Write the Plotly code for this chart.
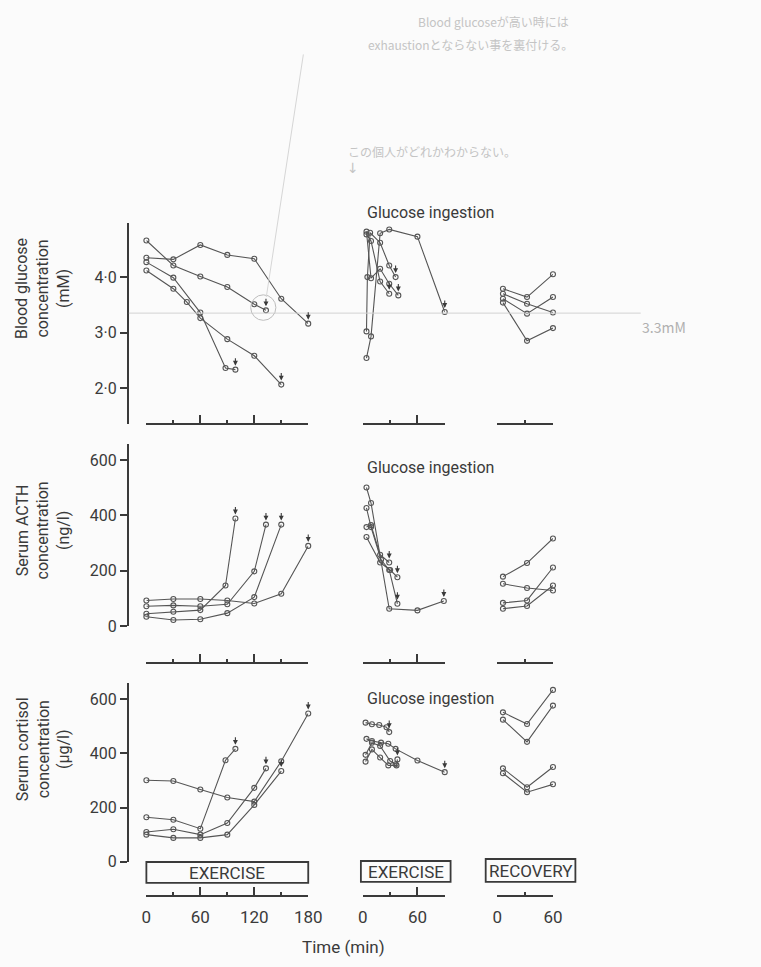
import plotly.graph_objects as go

W, H = 761, 967
INK = "#3a3a3a"
LINE = "#555555"
FONT = "Roboto"

# ---------------- data ----------------
# Blood glucose (mM)
glu_ex_times = [[0, 30, 60, 90, 120, 133], [0, 30, 60, 90, 120, 150, 180],
                [0, 30, 60, 88, 99], [0, 30, 45, 60, 90, 120, 150]]
glu_ex_values = [[4.66, 4.21, 4.01, 3.82, 3.51, 3.40], [4.35, 4.32, 4.58, 4.40, 4.33, 3.61, 3.16],
                 [4.27, 3.99, 3.36, 2.36, 2.33], [4.12, 3.79, 3.55, 3.26, 2.88, 2.58, 2.06]]
glu_gi_times = [[4, 9, 19, 29, 60, 90], [4, 5, 8, 19, 29, 36], [4, 9, 19, 29, 39], [4, 9, 19, 29]]
glu_gi_values = [[2.54, 2.93, 4.79, 4.86, 4.73, 3.37], [3.02, 4.00, 4.80, 4.62, 4.21, 4.00],
                 [4.82, 3.98, 4.15, 3.88, 3.67], [4.77, 4.65, 3.92, 3.70]]
glu_rec_times = [[6, 32, 60]] * 4
glu_rec_values = [[3.79, 3.64, 4.05], [3.70, 3.52, 3.36], [3.61, 3.34, 3.64], [3.54, 2.85, 3.08]]

# Serum ACTH (ng/l)
acth_ex_times = [[0, 30, 60, 88, 99], [0, 30, 60, 90, 120, 133],
                 [0, 30, 60, 90, 120, 150], [0, 30, 60, 90, 120, 150, 180]]
acth_ex_values = [[45, 52, 58, 147, 389], [72, 75, 72, 79, 198, 367],
                  [34, 22, 25, 47, 105, 367], [93, 98, 98, 93, 82, 117, 290]]
acth_gi_times = [[4, 9, 29, 60, 89], [4, 9, 20, 29, 38], [4, 9, 19, 29], [4, 19, 30, 38]]
acth_gi_values = [[501, 445, 63, 57, 91], [427, 358, 240, 203, 81], [358, 365, 258, 230], [322, 230, 203, 177]]
acth_rec_times = [[6, 32, 60]] * 4
acth_rec_values = [[179, 228, 317], [153, 138, 129], [84, 93, 212], [63, 73, 147]]

# Serum cortisol (ug/l)
cort_ex_times = [[0, 30, 60, 88, 99], [0, 30, 60, 90, 120, 133],
                 [0, 30, 60, 90, 120, 150], [0, 30, 60, 90, 120, 150, 180]]
cort_ex_values = [[164, 155, 122, 375, 417], [110, 120, 100, 143, 273, 345],
                  [100, 88, 88, 100, 210, 335], [301, 298, 267, 237, 222, 371, 548]]
cort_gi_times = [[3, 10, 18, 26, 29], [4, 10, 20, 28, 36, 60, 90], [3, 10, 19, 28, 37, 38], [3, 10, 19, 30, 36]]
cort_gi_values = [[514, 508, 505, 497, 479], [454, 446, 440, 436, 417, 374, 331],
                  [370, 415, 385, 356, 356, 378], [395, 440, 428, 372, 360]]
cort_rec_times = [[6, 32, 60]] * 4
cort_rec_values = [[552, 509, 635], [525, 443, 577], [345, 275, 350], [327, 257, 286]]

# which series end with an arrow (exhaustion / last sample)
arrow_flags = {
    (0, 0): [True, True, True, True], (0, 1): [True, True, True, True], (0, 2): [False] * 4,
    (1, 0): [True, True, True, True], (1, 1): [True, True, True, True], (1, 2): [False] * 4,
    (2, 0): [True, True, True, True], (2, 1): [True, True, True, False], (2, 2): [False] * 4,
}

# axis ticks
glu_ticks = [2, 3, 4]
glu_ticktext = ["2·0", "3·0", "4·0"]
hormone_ticks = [0, 200, 400, 600]
hormone_ticktext = ["0", "200", "400", "600"]
x_major = [[0, 60, 120, 180], [0, 60], [0, 60]]
x_minor = [[30, 90, 150], [30, 90], [30]]
x_labels = [["0", "60", "120", "180"], ["0", "60"], ["0", "60"]]

panels = [
    [(glu_ex_times, glu_ex_values), (glu_gi_times, glu_gi_values), (glu_rec_times, glu_rec_values)],
    [(acth_ex_times, acth_ex_values), (acth_gi_times, acth_gi_values), (acth_rec_times, acth_rec_values)],
    [(cort_ex_times, cort_ex_values), (cort_gi_times, cort_gi_values), (cort_rec_times, cort_rec_values)],
]

# ---------------- layout geometry (pixels) ----------------
col_px = [(145, 311), (367, 451), (505, 562)]
col_range = [[0, 180], [0, 90], [0, 60]]
row_px = [(225, 428), (449, 632.7), (690, 870.7)]
row_range = [[1.357, 4.982], [0, 657], [0, 661]]
xaxis_py = [428, 670, 905]
yaxis_px = 126


def px(x):
    return x / W


def py(y):
    return 1 - y / H


fig = go.Figure()
layout = dict(width=W, height=H, margin=dict(l=0, r=0, t=0, b=0), autosize=False,
              paper_bgcolor="#fbfbfb", plot_bgcolor="rgba(0,0,0,0)", showlegend=False,
              font=dict(family=FONT, color=INK, size=16), colorway=[LINE])

annotations = []
for r in range(3):
    for c in range(3):
        n = r * 3 + c + 1
        sfx = "" if n == 1 else str(n)
        times, values = panels[r][c]
        for i, (t, v) in enumerate(zip(times, values)):
            fig.add_trace(go.Scatter(
                x=t, y=v, mode="lines+markers", xaxis="x" + sfx, yaxis="y" + sfx,
                line=dict(color=LINE, width=1.1),
                marker=dict(symbol="circle-open", size=5, color=LINE, line=dict(width=1.1)),
                cliponaxis=False, hoverinfo="skip"))
            if arrow_flags[(r, c)][i]:
                # small downward arrow just above the last sample (exhaustion)
                annotations.append(dict(
                    x=t[-1], y=v[-1], xref="x" + sfx, yref="y" + sfx, text="",
                    showarrow=True, arrowhead=2, arrowsize=0.9, arrowwidth=1.1,
                    arrowcolor=INK, ax=0, ay=-13, standoff=4))
        layout["xaxis" + sfx] = dict(
            domain=[px(col_px[c][0]), px(col_px[c][1])], range=col_range[c],
            anchor="free", position=py(xaxis_py[r]),
            showline=True, linecolor=INK, linewidth=1.8,
            ticks="inside", ticklen=8, tickwidth=1.6, tickcolor=INK,
            tickmode="array", tickvals=x_major[c], ticktext=x_labels[c],
            showticklabels=(r == 2), tickfont=dict(size=17, color=INK), ticklabelstandoff=6,
            minor=dict(ticks="inside", ticklen=3, tickwidth=1.6, tickcolor=INK,
                       tickvals=x_minor[c], showgrid=False),
            showgrid=False, zeroline=False, fixedrange=True)
        ya = dict(domain=[py(row_px[r][1]), py(row_px[r][0])], range=row_range[r],
                  anchor="free", position=px(yaxis_px), showgrid=False, zeroline=False,
                  fixedrange=True)
        if c == 0:
            ya.update(showline=True, linecolor=INK, linewidth=1.8, ticks="outside", ticklen=7,
                      tickwidth=1.6, tickcolor=INK, tickmode="array",
                      tickvals=glu_ticks if r == 0 else hormone_ticks,
                      ticktext=glu_ticktext if r == 0 else hormone_ticktext,
                      tickfont=dict(size=16, color=INK))
        else:
            ya.update(visible=False)
        layout["yaxis" + sfx] = ya

titles = ["Blood glucose<br>concentration<br>(mM)",
          "Serum ACTH<br>concentration<br>(ng/l)",
          "Serum cortisol<br>concentration<br>(µg/l)"]
title_cy = [292, 536, 757]
for t, cy in zip(titles, title_cy):
    annotations.append(dict(text=t, x=px(39), y=py(cy), xref="paper", yref="paper",
                            textangle=-90, showarrow=False, xanchor="center", yanchor="middle",
                            font=dict(size=16, color=INK)))
for cy in [215, 472, 706]:
    annotations.append(dict(text="Glucose ingestion", x=px(436), y=py(cy), xref="paper", yref="paper",
                            showarrow=False, xanchor="center", yanchor="middle",
                            font=dict(size=16, color=INK)))

# boxes under bottom row
boxes = [("EXERCISE", 145, 311, 871, 892), ("EXERCISE", 365, 457, 870, 891), ("RECOVERY", 493, 585, 868, 891)]
shapes = []
for label, x0, x1, y0, y1 in boxes:
    shapes.append(dict(type="rect", xref="paper", yref="paper", x0=px(x0), x1=px(x1), y0=py(y1), y1=py(y0),
                       line=dict(color=INK, width=1.8)))
    annotations.append(dict(text=label, x=px((x0 + x1) / 2), y=py((y0 + y1) / 2 + 1), xref="paper", yref="paper",
                            showarrow=False, xanchor="center", yanchor="middle",
                            font=dict(size=17, color=INK)))

annotations.append(dict(text="Time (min)", x=px(347), y=py(957), xref="paper", yref="paper",
                        showarrow=False, xanchor="center", yanchor="middle", font=dict(size=17, color=INK)))

# faint handwritten pencil notes on the scan
PENCIL = "#c4c4c4"
shapes.append(dict(type="line", xref="paper", yref="y", x0=px(127), x1=px(652), y0=3.35, y1=3.35,
                   line=dict(color="#d2d2d2", width=1)))
shapes.append(dict(type="circle", xref="x", yref="y", x0=116, x1=144, y0=3.22, y1=3.68,
                   line=dict(color="#bdbdbd", width=1)))
shapes.append(dict(type="line", xref="paper", yref="paper", x0=px(306), y0=py(55), x1=px(268), y1=py(300),
                   line=dict(color="#d6d6d6", width=1)))
annotations.append(dict(text="3.3mM", x=px(700), y=py(318), xref="paper", yref="paper", showarrow=False,
                        font=dict(size=14, color="#b0b0b0", family="Noto Sans CJK JP")))
annotations.append(dict(text="Blood glucoseが高い時には", x=px(580), y=py(11), xref="paper", yref="paper",
                        showarrow=False, font=dict(size=12, color=PENCIL, family="Noto Sans CJK JP")))
annotations.append(dict(text="exhaustionとならない事を裏付ける。", x=px(585), y=py(34), xref="paper", yref="paper",
                        showarrow=False, font=dict(size=12, color=PENCIL, family="Noto Sans CJK JP")))
annotations.append(dict(text="この個人がどれかわからない。", x=px(438), y=py(142), xref="paper", yref="paper",
                        showarrow=False, font=dict(size=12, color=PENCIL, family="Noto Sans CJK JP")))
annotations.append(dict(text="↓", x=px(357), y=py(160), xref="paper", yref="paper",
                        showarrow=False, font=dict(size=14, color=PENCIL, family="DejaVu Sans")))

layout["annotations"] = annotations
layout["shapes"] = shapes
fig.update_layout(**layout)
fig.write_html("out.html")
